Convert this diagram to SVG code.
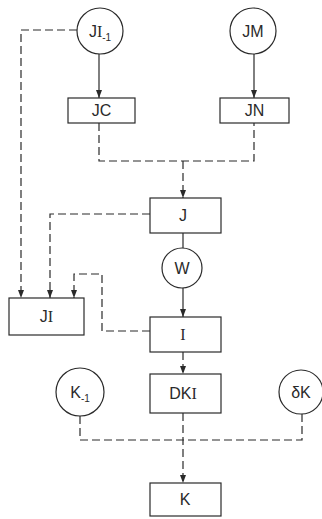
<svg xmlns="http://www.w3.org/2000/svg" width="322" height="519" viewBox="0 0 322 519">
<defs>
<style>
.n{fill:none;stroke:#2a2a2a;stroke-width:1.2}
.t{font-family:"Liberation Sans",Arial,sans-serif;font-size:16px;fill:#2a2a2a;text-anchor:middle}
.s{font-family:"Liberation Serif",serif}
.sub{font-size:10px}
.c{fill:none;stroke:#2a2a2a;stroke-width:1.2}
.d{stroke-dasharray:8 4}
</style>
<marker id="ah" viewBox="0 0 8 6" refX="8" refY="3" markerWidth="8" markerHeight="6" markerUnits="userSpaceOnUse" orient="auto">
<path d="M0,0 L8,3 L0,6 Z" fill="#2a2a2a"/>
</marker>
</defs>
<rect width="322" height="519" fill="#ffffff"/>
<g id="connectors">
<path class="c" d="M99,54 V98" marker-end="url(#ah)"/>
<path class="c" d="M254,54 V98" marker-end="url(#ah)"/>
<path class="c d" d="M99,123 V161 H254 V123"/>
<path class="c d" d="M183,161 V198" marker-end="url(#ah)"/>
<path class="c d" d="M77,30 H21 V298" marker-end="url(#ah)"/>
<path class="c d" d="M150,214 H50 V298" marker-end="url(#ah)"/>
<path class="c" d="M183,233 V248"/>
<path class="c" d="M183,288 V317" marker-end="url(#ah)"/>
<path class="c d" d="M150,331 H102 V274 H74 V298" marker-end="url(#ah)"/>
<path class="c d" d="M183,352 V374" marker-end="url(#ah)"/>
<path class="c d" d="M80,416 V440 H302 V414"/>
<path class="c d" d="M183,413 V483" marker-end="url(#ah)"/>
</g>
<g id="JI-1"><circle class="n" cx="100" cy="31" r="23"/><text class="t" x="100" y="37">J<tspan class="s">I</tspan><tspan class="sub" dy="4">-1</tspan></text></g>
<g id="JM"><circle class="n" cx="253" cy="31" r="23"/><text class="t" x="253" y="37">JM</text></g>
<g id="JC"><rect class="n" x="68" y="98" width="67" height="25"/><text class="t" x="101.5" y="116">JC</text></g>
<g id="JN"><rect class="n" x="220" y="98" width="69" height="25"/><text class="t" x="254.5" y="116">JN</text></g>
<g id="J"><rect class="n" x="150" y="198" width="71" height="35"/><text class="t" x="183" y="221">J</text></g>
<g id="W"><circle class="n" cx="182" cy="268" r="20"/><text class="t" x="182" y="274">W</text></g>
<g id="JI"><rect class="n" x="9" y="298" width="75" height="37"/><text class="t" x="46.5" y="322">J<tspan class="s">I</tspan></text></g>
<g id="I"><rect class="n" x="150" y="317" width="71" height="35"/><text class="t s" x="183" y="340">I</text></g>
<g id="DKI"><rect class="n" x="150" y="374" width="71" height="39"/><text class="t" x="183" y="399">DK<tspan class="s">I</tspan></text></g>
<g id="K-1"><circle class="n" cx="80" cy="392" r="24"/><text class="t" x="80" y="398">K<tspan class="sub" dy="4">-1</tspan></text></g>
<g id="dK"><circle class="n" cx="301" cy="392" r="22"/><text class="t" x="301" y="398">δK</text></g>
<g id="K"><rect class="n" x="150" y="483" width="71" height="33"/><text class="t" x="185" y="505">K</text></g>
</svg>
